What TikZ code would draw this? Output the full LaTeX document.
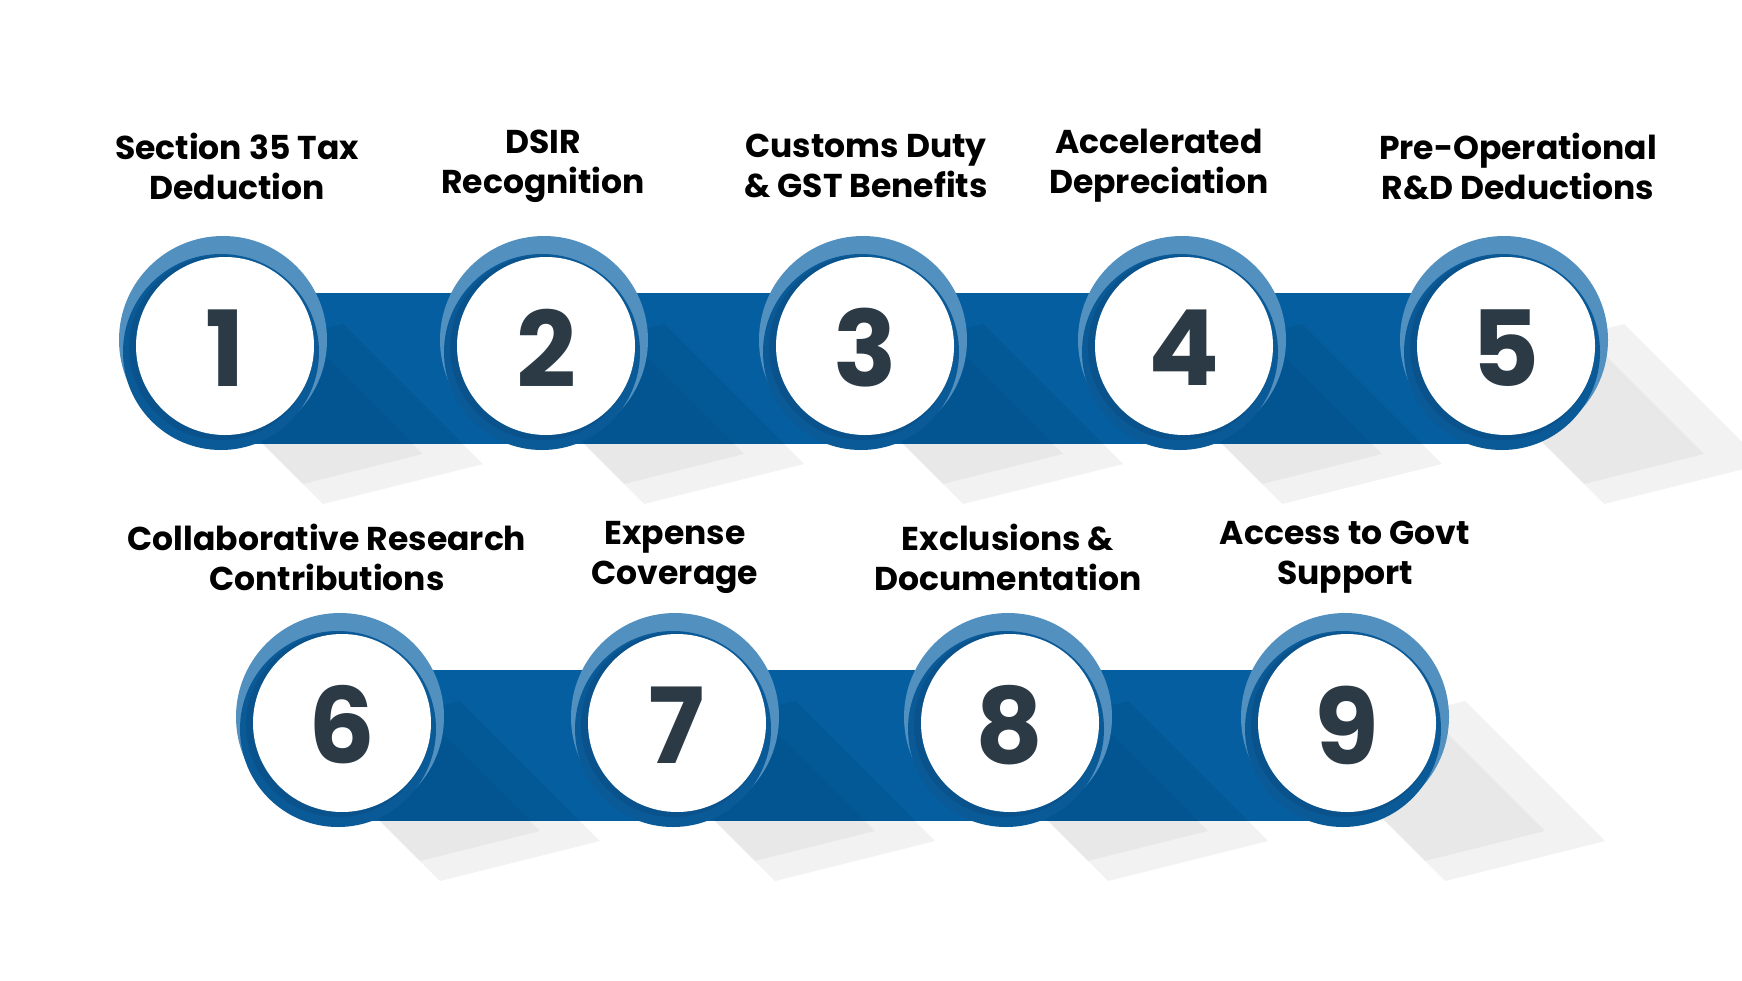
\documentclass[tikz,border=0pt]{standalone}
\usepackage{fontspec}
\setmainfont{Poppins}
\usetikzlibrary{calc}
\definecolor{band}{HTML}{045E9F}
\definecolor{ringlight}{HTML}{5290C0}
\definecolor{ringdark}{HTML}{0A5A98}
\definecolor{numc}{HTML}{2B3A45}
\tikzset{
  lbl/.style={align=center,font=\fontsize{33}{40}\selectfont\bfseries,text=black},
  num/.style={font=\fontsize{105}{105}\selectfont\bfseries,text=numc},
}
\newcommand{\stepcirc}[3]{%
  \fill[black,opacity=0.05] ($(#1)+(-40,20)$) -- ++(140,140) -- ++(160,-40) -- ++(-140,-140) -- cycle;
  \fill[black,opacity=0.04] ($(#1)+(-30,30)$) -- ++(110,110) -- ++(120,-30) -- ++(-110,-110) -- cycle;
  \fill[ringlight] ($(#1)+(0,-4)$) circle[radius=104];
  \fill[ringdark] ($(#1)+(-2,8)$) circle[radius=98];
  \fill[black,opacity=0.08] ($(#1)+(-2,4)$) circle[radius=92];
  \fill[white] ($(#1)+(2,2)$) circle[radius=89];
  \node[num] (#2) at ($(#1)+(2,4)$) {#3};
}
\begin{document}
\begin{tikzpicture}[x=1pt,y=-1pt]
\useasboundingbox (0,0) rectangle (1742,980);
\fill[white] (0,0) rectangle (1742,980);
% bands
\coordinate (c1) at (223,344); \coordinate (c2) at (544,344); \coordinate (c3) at (863,344);
\coordinate (c4) at (1182,344); \coordinate (c5) at (1504,344);
\coordinate (c6) at (340,721); \coordinate (c7) at (675,721); \coordinate (c8) at (1008,721); \coordinate (c9) at (1345,721);
\fill[band] (223,293) rectangle (1504,444);
\fill[band] (340,670) rectangle (1345,821);
\stepcirc{c1}{n1}{1}
\stepcirc{c2}{n2}{2}
\stepcirc{c3}{n3}{3}
\stepcirc{c4}{n4}{4}
\stepcirc{c5}{n5}{5}
\stepcirc{c6}{n6}{6}
\stepcirc{c7}{n7}{7}
\stepcirc{c8}{n8}{8}
\stepcirc{c9}{n9}{9}
\node[lbl] (l1) at (237,166) {Section 35 Tax\\Deduction};
\node[lbl] (l2) at (543,166) {DSIR\\Recognition};
\node[lbl] (l3) at (866,166) {Customs Duty\\\& GST Benefits};
\node[lbl] (l4) at (1159,166) {Accelerated\\Depreciation};
\node[lbl] (l5) at (1518,166) {Pre-Operational\\R\&D Deductions};
\node[lbl] (l6) at (327,557) {Collaborative Research\\Contributions};
\node[lbl] (l7) at (675,557) {Expense\\Coverage};
\node[lbl] (l8) at (1008,557) {Exclusions \&\\Documentation};
\node[lbl] (l9) at (1345,557) {Access to Govt\\Support};
\end{tikzpicture}
\end{document}
